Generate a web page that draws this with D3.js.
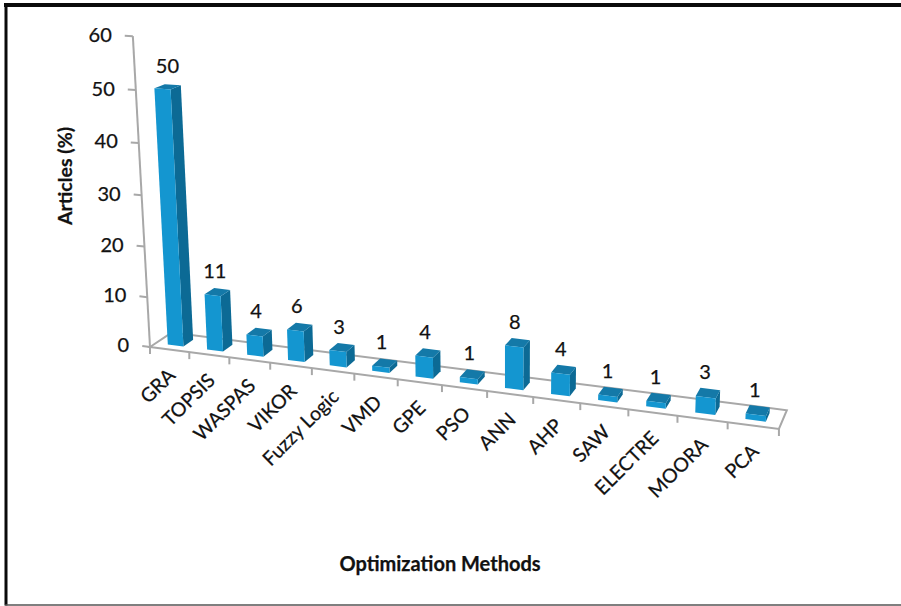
<!DOCTYPE html>
<html>
<head>
<meta charset="utf-8">
<script src="https://cdn.jsdelivr.net/npm/d3@7/dist/d3.min.js"></script>
<style>
  html, body { margin: 0; padding: 0; background: #fff; }
  svg { display: block; }
  text { font-family: Lato, "Open Sans", sans-serif; fill: #111; stroke: #111; stroke-width: 0.25px; }
</style>
</head>
<body>
<svg id="chart" width="901" height="606"></svg>
<script>
// Share of articles per optimization method
const methods = ["GRA", "TOPSIS", "WASPAS", "VIKOR", "Fuzzy Logic", "VMD", "GPE", "PSO", "ANN", "AHP", "SAW", "ELECTRE", "MOORA", "PCA"];
const articles = [50, 11, 4, 6, 3, 1, 4, 1, 8, 4, 1, 1, 3, 1];
const valueTicks = [0, 10, 20, 30, 40, 50, 60];

const svg = d3.select("#chart");

// Logical scales: category runs 0..n, value 0..60, depth 0..1
const xBand = d3.scaleBand().domain(methods).range([0, methods.length]).paddingInner(0.6).paddingOuter(0.3);
const yVal = d3.scaleLinear().domain([0, 60]).range([0, 60]);
const zDepth = d3.scaleLinear().domain([0, 1]).range([0, 1]);

// Perspective camera: origin plus one vanishing point per axis
const origin = [150, 347];
const vpX = { x: -3930, y: -185, k: -0.00954 };
const vpY = { x: 506, y: 6800, k: -0.000766 };
const vpZ = { x: 1072, y: -268, k: 0.024 };

function project(u, v, w) {
  const a = u * vpX.k, b = v * vpY.k, c = w * vpZ.k;
  const d = 1 + a + b + c;
  return [
    (origin[0] + a * vpX.x + b * vpY.x + c * vpZ.x) / d,
    (origin[1] + a * vpX.y + b * vpY.y + c * vpZ.y) / d
  ];
}

const polyPath = pts => d3.line()(pts) + "Z";
const axisColor = "#a8a8a8";
const n = methods.length;

// Outer frame
const frame = svg.append("g").attr("stroke-linecap", "square");
frame.append("line").attr("x1", 6).attr("y1", 5).attr("x2", 901).attr("y2", 5).attr("stroke", "#0a0a0a").attr("stroke-width", 4);
frame.append("line").attr("x1", 6).attr("y1", 5).attr("x2", 6).attr("y2", 604).attr("stroke", "#0a0a0a").attr("stroke-width", 3);
frame.append("line").attr("x1", 6).attr("y1", 605).attr("x2", 901).attr("y2", 605).attr("stroke", "#555").attr("stroke-width", 1.5);

// Floor outline
svg.append("path")
  .attr("d", polyPath([project(0, 0, 0), project(n, 0, 0), project(n, 0, 1), project(0, 0, 1)]))
  .attr("fill", "none").attr("stroke", axisColor).attr("stroke-width", 2);

// Value axis with its tick marks and labels
const line2 = (g, a, b) => g.append("line")
  .attr("x1", a[0]).attr("y1", a[1]).attr("x2", b[0]).attr("y2", b[1])
  .attr("stroke", axisColor).attr("stroke-width", 2);

const axisG = svg.append("g");
line2(axisG, project(0, yVal(0), 0), project(0, yVal(60), 0));
valueTicks.forEach(t => {
  const end = project(-0.2, yVal(t), 0);
  line2(axisG, project(0, yVal(t), 0), end);
  axisG.append("text")
    .attr("x", end[0] - 13).attr("y", end[1] + 1)
    .attr("text-anchor", "end").attr("dominant-baseline", "middle")
    .attr("font-size", 20).text(t);
});

// Category tick marks and slanted labels
const catG = svg.append("g");
d3.range(n + 1).forEach(i => {
  const p = project(i, 0, 0);
  line2(catG, p, [p[0], p[1] + 7]);
});
methods.forEach(m => {
  const p = project(xBand(m) + xBand.bandwidth() / 2, 0, 0);
  catG.append("text")
    .attr("transform", `translate(${p[0] + 7},${p[1] + 27}) rotate(-45)`)
    .attr("text-anchor", "end")
    .attr("font-size", 19.5).text(m);
});

// Columns: side, top and front faces, each from its value
const bars = svg.append("g");
const w0 = zDepth(0.28), w1 = zDepth(0.74);
methods.forEach((m, i) => {
  const u0 = xBand(m), u1 = u0 + xBand.bandwidth(), h = yVal(articles[i]);
  const g = bars.append("g");
  g.append("path").attr("fill", "#0c6a95")
    .attr("d", polyPath([project(u1, 0, w0), project(u1, 0, w1), project(u1, h, w1), project(u1, h, w0)]));
  g.append("path").attr("fill", "#1479a8")
    .attr("d", polyPath([project(u0, h, w0), project(u1, h, w0), project(u1, h, w1), project(u0, h, w1)]));
  g.append("path").attr("fill", "#1496d0")
    .attr("d", polyPath([project(u0, 0, w0), project(u1, 0, w0), project(u1, h, w0), project(u0, h, w0)]));
  const top = project((u0 + u1) / 2, h, 0.5);
  g.append("text")
    .attr("x", top[0] - 3 + h * 0.06).attr("y", top[1] - 14)
    .attr("text-anchor", "middle")
    .attr("font-size", 20).text(articles[i]);
});

// Axis titles
svg.append("text")
  .attr("transform", "translate(72,176) rotate(-90)")
  .attr("text-anchor", "middle").attr("font-weight", 700).attr("font-size", 19.5)
  .text("Articles (%)");
svg.append("text")
  .attr("x", 440).attr("y", 571)
  .attr("text-anchor", "middle").attr("font-weight", 700).attr("font-size", 20)
  .text("Optimization Methods");
</script>
</body>
</html>
